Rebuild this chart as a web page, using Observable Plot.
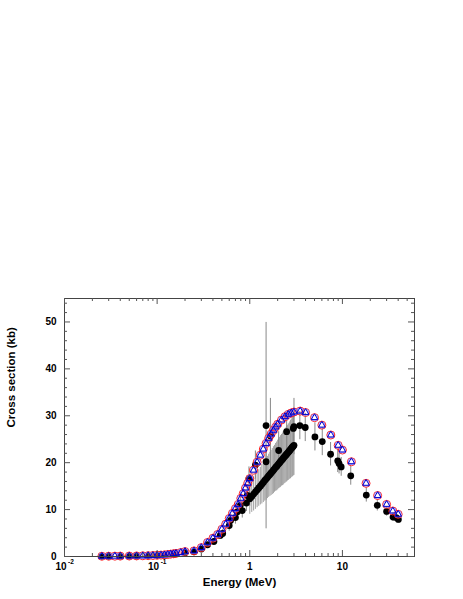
<!DOCTYPE html>
<html>
<head>
<meta charset="utf-8">
<script src="https://cdn.jsdelivr.net/npm/d3@7"></script>
<script src="https://cdn.jsdelivr.net/npm/@observablehq/plot@0.6"></script>
<style>
  html, body { margin: 0; padding: 0; background: #fff; }
  #chart svg { display: block; }
</style>
</head>
<body>
<div id="chart"></div>
<script>
// ---- Evaluated (calculated) cross sections ----
const calcE = [0.0253,0.03,0.035,0.04,0.05,0.06,0.07,0.08,0.09,0.1,0.11,0.12,0.13,0.14,0.15,0.16,0.18,0.2,0.25,0.3,0.35,0.4,0.45,0.5,0.55,0.6,0.65,0.7,0.75,0.8,0.85,0.9,0.95,1.0,1.1,1.2,1.3,1.4,1.5,1.6,1.7,1.8,1.9,2.0,2.2,2.4,2.6,2.8,3.0,3.5,4.0,5.0,6.0,7.5,9.0,10,12.5,18,24,30,35,40];
const calcRed = [0.05,0.06,0.07,0.08,0.1,0.12,0.15,0.18,0.21,0.25,0.3,0.35,0.42,0.5,0.58,0.66,0.85,1.05,1.2,1.9,3.0,3.9,4.7,5.8,6.9,8.1,9.2,10.2,11.1,12.4,13.4,14.6,15.6,16.6,18.4,20.1,21.6,22.9,24.1,25.2,26.1,26.9,27.6,28.2,29.1,29.8,30.3,30.6,30.8,31.0,30.7,29.6,28.0,25.9,23.7,22.7,20.2,15.6,13.0,11.1,9.7,9.0];
const calcBlue = [0.05,0.06,0.07,0.08,0.1,0.12,0.15,0.18,0.21,0.25,0.3,0.35,0.42,0.5,0.58,0.66,0.85,1.05,1.2,1.9,3.0,3.9,4.7,5.8,6.9,8.1,9.2,10.2,11.1,12.4,13.4,14.6,15.6,16.6,18.4,20.1,21.6,22.9,24.1,25.2,26.1,26.9,27.6,28.2,29.1,29.8,30.3,30.6,30.8,31.0,30.7,29.6,28.0,25.9,23.7,22.7,20.2,15.6,13.0,11.1,9.7,9.0];

// ---- Experimental data (black, with error bars) ----
const expE = [0.0253,0.03,0.04,0.05,0.06,0.08,0.1,0.12,0.15,0.2,0.25,0.3,0.35,0.41,0.48,0.51,0.6,0.62,0.7,0.73,0.79,0.83,0.92,0.94,0.98,1.0,1.15,1.5,1.5,1.67,2.05,2.5,2.95,3.0,3.47,3.97,5.05,6.06,7.45,8.9,9.2,9.7,12.3,18.1,23.8,30,35.2,38,40.2];
const expXS = [0.04,0.05,0.07,0.09,0.11,0.15,0.2,0.28,0.45,0.8,1.0,1.6,2.5,3.2,4.5,4.9,6.6,7.7,8.3,9.5,10.9,9.8,11.4,13.0,16.6,12.7,19.5,20.2,27.9,25.7,22.6,26.6,27.3,27.7,27.9,27.5,25.5,24.5,21.8,20.4,19.8,19.1,17.2,13.1,10.9,9.6,8.4,8.3,7.9];
const expErr = [0.05,0.05,0.05,0.05,0.05,0.05,0.06,0.08,0.1,0.2,0.3,0.4,0.5,0.6,0.8,0.9,1.2,1.3,1.4,1.5,1.8,1.6,1.8,2.0,2.5,2.0,3.0,3.5,22,8.0,4.0,4.0,3.5,6.0,3.0,3.0,3.0,3.0,2.5,2.5,2.2,2.0,2.0,1.5,1.2,1.0,0.9,0.9,0.8];

// dense experimental set between 1 and 3 MeV
const lineE = [1.00,1.05,1.10,1.15,1.20,1.25,1.30,1.35,1.40,1.45,1.50,1.55,1.60,1.65,1.70,1.75,1.80,1.85,1.90,1.95,2.00,2.05,2.10,2.15,2.20,2.25,2.30,2.35,2.40,2.45,2.50,2.55,2.60,2.65,2.70,2.75,2.80,2.85,2.90,2.95,3.00];
const lineXS = [12.3,12.8,13.3,13.75,14.2,14.6,15.0,15.4,15.8,16.2,16.5,16.85,17.2,17.5,17.8,18.1,18.4,18.7,19.0,19.2,19.5,19.75,20.0,20.25,20.5,20.7,20.95,21.2,21.4,21.6,21.8,22.0,22.2,22.4,22.6,22.8,23.0,23.2,23.35,23.5,23.7];
const lineErr = [3.3,3.4,3.6,3.7,3.8,3.9,4.0,4.2,4.3,4.4,4.5,4.5,4.6,4.7,4.8,4.9,5.0,5.0,5.1,5.2,5.3,5.3,5.4,5.5,5.5,5.6,5.7,5.7,5.8,5.8,5.9,5.9,6.0,6.0,6.1,6.2,6.2,6.3,6.3,6.3,6.4];

// ---- Ticks ----
const yMajor = [0,10,20,30,40,50];
const yMinor = [2,4,6,8,12,14,16,18,22,24,26,28,32,34,36,38,42,44,46,48,52,54];
const xMajor = [0.01,0.1,1,10];
const xMinor = [0.02,0.03,0.04,0.05,0.06,0.07,0.08,0.09,0.2,0.3,0.4,0.5,0.6,0.7,0.8,0.9,2,3,4,5,6,7,8,9,20,30,40,50];
const xPowTicks = [0.01,0.1];
const xPowBase = ["10","10"];
const xPowExp = ["-2","-1"];
const xPlainTicks = [1,10];
const xPlainLabels = ["1","10"];

const xTitle = "Energy (MeV)";
const yTitle = "Cross section (kb)";

const calc = calcE.map((e,i) => ({e, red: calcRed[i], blue: calcBlue[i]}));
const expMain = expE.map((e,i) => ({e, v: expXS[i], err: expErr[i]}));
const expLine = lineE.map((e,i) => ({e, v: lineXS[i], err: lineErr[i]}));
const exp = expMain.concat(expLine);

const W = 463, H = 599;
const mL = 64, mR = 49, mT = 298, mB = 43;
const fw = W - mL - mR, fh = H - mT - mB;
const font = "'Liberation Sans', Arial, Helvetica, sans-serif";
const tickCol = "#555";

const chart = Plot.plot({
  width: W, height: H,
  marginLeft: mL, marginRight: mR, marginTop: mT, marginBottom: mB,
  style: {fontFamily: font, background: "#fff"},
  x: {type: "log", domain: [0.01, 60], axis: null},
  y: {domain: [0, 55], axis: null},
  marks: [
    // error bars
    Plot.ruleX(expLine, {x: "e", y1: d => Math.max(0, d.v - d.err), y2: d => d.v + d.err, stroke: "#a0a0a0", strokeWidth: 1}),
    Plot.ruleX(expMain, {x: "e", y1: d => Math.max(0, d.v - d.err), y2: d => d.v + d.err, stroke: "#888", strokeWidth: 1}),
    // experimental points
    Plot.dot(exp, {x: "e", y: "v", r: 3.4, fill: "#000", stroke: "none"}),
    // evaluated
    Plot.dot(calc, {x: "e", y: "red", r: 4, symbol: "circle", stroke: "#ff2020", strokeWidth: 1, fill: "none"}),
    Plot.dot(calc, {x: "e", y: "blue", r: 3.0, symbol: "square", stroke: "#8080ff", strokeWidth: 0.8, fill: "none"}),
    Plot.dot(calc, {x: "e", y: "blue", r: 2.5, symbol: "triangle", stroke: "#0000cc", strokeWidth: 1, fill: "none"}),
    // frame
    Plot.frame({stroke: "#444", strokeWidth: 1}),
    // y ticks (inward, both sides)
    Plot.tickY(yMajor, {y: d => d, insetRight: fw - 6, stroke: tickCol}),
    Plot.tickY(yMinor, {y: d => d, insetRight: fw - 3, stroke: tickCol}),
    Plot.tickY(yMajor, {y: d => d, insetLeft: fw - 6, stroke: tickCol}),
    Plot.tickY(yMinor, {y: d => d, insetLeft: fw - 3, stroke: tickCol}),
    // x ticks (inward, both sides)
    Plot.tickX(xMajor, {x: d => d, insetTop: fh - 6, stroke: tickCol}),
    Plot.tickX(xMinor, {x: d => d, insetTop: fh - 3, stroke: tickCol}),
    Plot.tickX(xMajor, {x: d => d, insetBottom: fh - 6, stroke: tickCol}),
    Plot.tickX(xMinor, {x: d => d, insetBottom: fh - 3, stroke: tickCol}),
    // y tick labels
    Plot.text(yMajor, {y: d => d, frameAnchor: "left", dx: -8, textAnchor: "end", text: d => String(d), fontSize: 10, fontWeight: "bold", fill: "#000"}),
    // x tick labels
    Plot.text(xPowTicks, {x: d => d, frameAnchor: "bottom", dy: 13, dx: 2, textAnchor: "end", text: (d,i) => xPowBase[i], fontSize: 10, fontWeight: "bold", fill: "#000"}),
    Plot.text(xPowTicks, {x: d => d, frameAnchor: "bottom", dy: 7, dx: 3.5, textAnchor: "start", text: (d,i) => xPowExp[i], fontSize: 6.5, fontWeight: "bold", fill: "#000"}),
    Plot.text(xPlainTicks, {x: d => d, frameAnchor: "bottom", dy: 13, textAnchor: "middle", text: (d,i) => xPlainLabels[i], fontSize: 10, fontWeight: "bold", fill: "#000"}),
    // axis titles
    Plot.text([xTitle], {frameAnchor: "bottom", dy: 29, text: d => d, fontSize: 11.5, fontWeight: "bold", fill: "#000"}),
    Plot.text([yTitle], {frameAnchor: "left", dx: -53, rotate: -90, text: d => d, fontSize: 11.5, fontWeight: "bold", fill: "#000"})
  ]
});
document.getElementById("chart").appendChild(chart);
</script>
</body>
</html>
